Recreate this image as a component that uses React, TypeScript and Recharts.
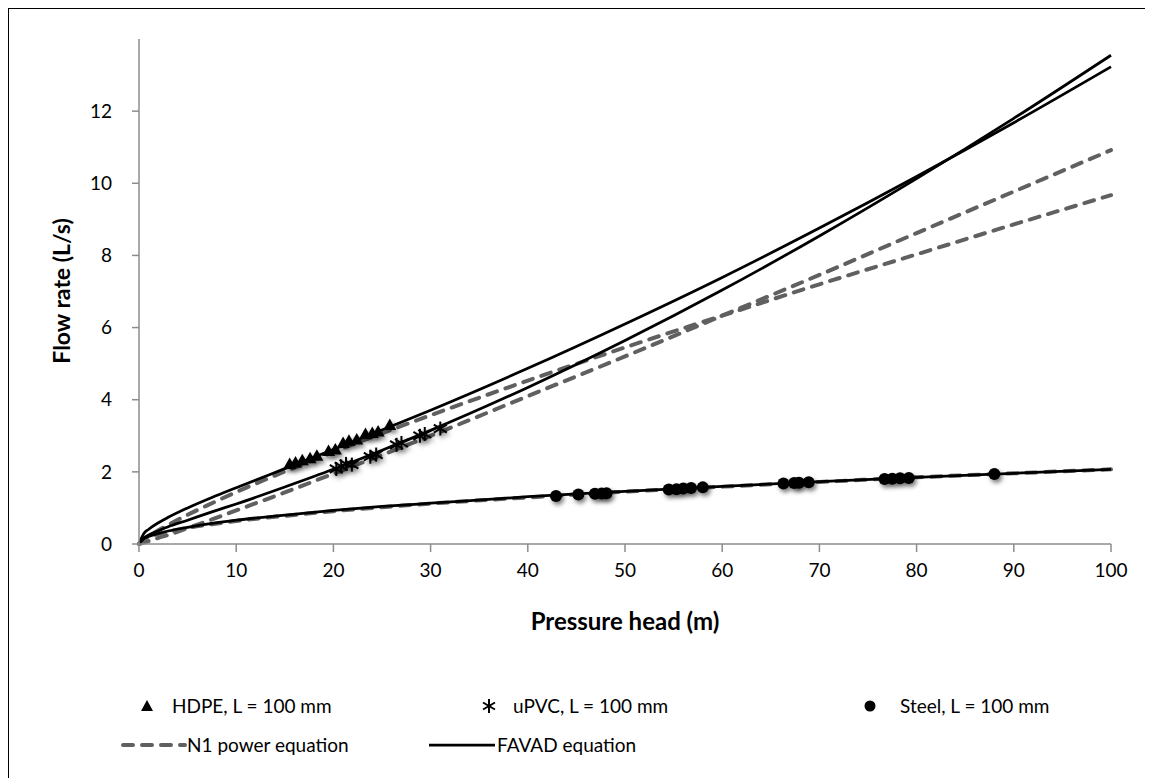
import { ComposedChart, Line, Scatter, XAxis, YAxis, Label } from "recharts";

// pressure head sample points used for the fitted curves (m)
const H = [0, 0.5, 1, 2, 3, 5, 7.5, 10, 15, 20, 25, 30, 40, 50, 60, 70, 80, 90, 100];

// fitted curves (L/s)
const favadHdpe = [0, 0.29, 0.41, 0.59, 0.74, 1.0, 1.29, 1.56, 2.09, 2.62, 3.16, 3.71, 4.87, 6.1, 7.39, 8.76, 10.19, 11.68, 13.23];
const favadUpvc = [0, 0.17, 0.25, 0.37, 0.48, 0.66, 0.89, 1.11, 1.58, 2.07, 2.6, 3.15, 4.34, 5.64, 7.04, 8.54, 10.13, 11.8, 13.55];
const favadSteel = [0, 0.15, 0.21, 0.29, 0.36, 0.46, 0.57, 0.66, 0.8, 0.93, 1.04, 1.13, 1.31, 1.46, 1.6, 1.73, 1.85, 1.96, 2.07];
const n1Hdpe = [0, 0.12, 0.21, 0.38, 0.53, 0.81, 1.13, 1.44, 2.01, 2.55, 3.07, 3.57, 4.53, 5.45, 6.33, 7.2, 8.03, 8.86, 9.67];
const n1Upvc = [0, 0.04, 0.08, 0.17, 0.25, 0.44, 0.68, 0.93, 1.43, 1.95, 2.47, 3.0, 4.1, 5.2, 6.33, 7.46, 8.62, 9.77, 10.92];
const n1Steel = [0, 0.14, 0.2, 0.28, 0.34, 0.45, 0.55, 0.64, 0.78, 0.91, 1.02, 1.12, 1.29, 1.45, 1.59, 1.72, 1.85, 1.96, 2.07];

// measured points
const hdpeH = [15.5, 16.1, 16.8, 17.6, 18.3, 19.5, 20.2, 21.0, 21.6, 22.4, 23.3, 24.0, 24.6, 25.8];
const hdpeQ = [2.22, 2.26, 2.32, 2.38, 2.45, 2.58, 2.62, 2.8, 2.86, 2.9, 3.05, 3.08, 3.12, 3.3];
const upvcH = [20.3, 20.8, 21.3, 21.9, 23.8, 24.4, 26.5, 27.0, 28.9, 29.4, 31.0];
const upvcQ = [2.08, 2.15, 2.22, 2.2, 2.42, 2.48, 2.75, 2.8, 3.0, 3.05, 3.2];
const steelH = [42.9, 45.2, 46.9, 47.6, 48.1, 54.5, 55.3, 56.0, 56.8, 58.0, 66.3, 67.4, 67.9, 68.9, 76.7, 77.5, 78.3, 79.2, 88.0];
const steelQ = [1.33, 1.37, 1.39, 1.4, 1.41, 1.51, 1.52, 1.54, 1.55, 1.57, 1.68, 1.69, 1.7, 1.71, 1.8, 1.81, 1.82, 1.83, 1.94];

const xTicks = [0, 10, 20, 30, 40, 50, 60, 70, 80, 90, 100];
const yTicks = [0, 2, 4, 6, 8, 10, 12];

const curve = (q: number[]) => H.map((h, i) => ({ h, q: q[i] }));
const points = (hs: number[], qs: number[]) => hs.map((h, i) => ({ h, q: qs[i] }));

const FONT = "Lato, 'Open Sans', sans-serif";
const AXIS = "#8c8c8c";
const DASH = "#606060";

const Triangle = ({ cx, cy }: any) => (
  <path d={`M${cx},${cy - 6.5} L${cx + 6.5},${cy + 5} L${cx - 6.5},${cy + 5} Z`} fill="#000" filter="url(#shadow)" />
);
const Star = ({ cx, cy }: any) => (
  <g stroke="#000" strokeWidth={2} filter="url(#shadow)">
    <line x1={cx} y1={cy - 7} x2={cx} y2={cy + 7} />
    <line x1={cx - 6.5} y1={cy - 4} x2={cx + 6.5} y2={cy + 4} />
    <line x1={cx - 6.5} y1={cy + 4} x2={cx + 6.5} y2={cy - 4} />
  </g>
);
const Dot = ({ cx, cy }: any) => <circle cx={cx} cy={cy} r={6} fill="#000" filter="url(#shadow)" />;

const legendText = { position: "absolute" as const, fontFamily: FONT, fontSize: 19, color: "#000", lineHeight: "24px", whiteSpace: "nowrap" as const };

const App = () => (
  <div style={{ position: "relative", width: 1145, height: 770, borderTop: "1px solid #000", borderLeft: "1px solid #000", boxSizing: "border-box", background: "#fff" }}>
    <ComposedChart width={1144} height={769} margin={{ top: 30, right: 42, left: 70, bottom: 174 }}>
      <defs>
        <filter id="shadow" x="-60%" y="-60%" width="220%" height="220%">
          <feDropShadow dx="2" dy="3" stdDeviation="2.2" floodColor="#000" floodOpacity="0.5" />
        </filter>
      </defs>
      <XAxis type="number" dataKey="h" domain={[0, 100]} ticks={xTicks} height={60} stroke={AXIS} strokeWidth={1.5}
        tickSize={8} tickMargin={12} tick={{ fill: "#000", fontSize: 19, fontFamily: FONT }}>
        <Label content={() => (
          <text x={616} y={611} textAnchor="middle" dominantBaseline="central" fontFamily={FONT} fontWeight={700} fontSize={24}>Pressure head (m)</text>
        )} />
      </XAxis>
      <YAxis type="number" domain={[0, 14]} ticks={yTicks} width={60} stroke={AXIS} strokeWidth={1.5}
        tickSize={7} tickMargin={20} tick={{ fill: "#000", fontSize: 19, fontFamily: FONT }}>
        <Label content={() => (
          <text x={52} y={282} textAnchor="middle" dominantBaseline="central" fontFamily={FONT} fontWeight={700} fontSize={23} transform="rotate(-90 52 282)">Flow rate (L/s)</text>
        )} />
      </YAxis>

      <Line data={curve(n1Hdpe)} dataKey="q" type="monotone" stroke={DASH} strokeWidth={4} strokeDasharray="10 9" strokeLinecap="round" dot={false} activeDot={false} isAnimationActive={false} />
      <Line data={curve(n1Upvc)} dataKey="q" type="monotone" stroke={DASH} strokeWidth={4} strokeDasharray="10 9" strokeLinecap="round" dot={false} activeDot={false} isAnimationActive={false} />
      <Line data={curve(n1Steel)} dataKey="q" type="monotone" stroke={DASH} strokeWidth={4} strokeDasharray="10 9" strokeLinecap="round" dot={false} activeDot={false} isAnimationActive={false} />
      <Line data={curve(favadHdpe)} dataKey="q" type="monotone" stroke="#000" strokeWidth={2.75} dot={false} activeDot={false} isAnimationActive={false} />
      <Line data={curve(favadUpvc)} dataKey="q" type="monotone" stroke="#000" strokeWidth={2.75} dot={false} activeDot={false} isAnimationActive={false} />
      <Line data={curve(favadSteel)} dataKey="q" type="monotone" stroke="#000" strokeWidth={2.75} dot={false} activeDot={false} isAnimationActive={false} />

      <Scatter data={points(hdpeH, hdpeQ)} dataKey="q" shape={Triangle} isAnimationActive={false} />
      <Scatter data={points(upvcH, upvcQ)} dataKey="q" shape={Star} isAnimationActive={false} />
      <Scatter data={points(steelH, steelQ)} dataKey="q" shape={Dot} isAnimationActive={false} />
    </ComposedChart>

    {/* legend */}
    <svg style={{ position: "absolute", left: 0, top: 0 }} width={1144} height={769} pointerEvents="none">
      <path d="M138,691 L144,702 L132,702 Z" fill="#000" />
      <g stroke="#000" strokeWidth={2}>
        <line x1={480} y1={690} x2={480} y2={704} />
        <line x1={474} y1={693.5} x2={486} y2={700.5} />
        <line x1={474} y1={700.5} x2={486} y2={693.5} />
      </g>
      <circle cx={861} cy={697} r={5.5} fill="#000" />
      <line x1={114} y1={736} x2={176} y2={736} stroke={DASH} strokeWidth={4} strokeDasharray="10 9" strokeLinecap="round" />
      <line x1={420} y1={736} x2={486} y2={736} stroke="#000" strokeWidth={2.75} />
    </svg>
    <div style={{ ...legendText, left: 163, top: 685 }}>HDPE, L = 100 mm</div>
    <div style={{ ...legendText, left: 504, top: 685 }}>uPVC, L = 100 mm</div>
    <div style={{ ...legendText, left: 891, top: 685 }}>Steel, L = 100 mm</div>
    <div style={{ ...legendText, left: 178, top: 724 }}>N1 power equation</div>
    <div style={{ ...legendText, left: 488, top: 724 }}>FAVAD equation</div>
  </div>
);

export default App;
